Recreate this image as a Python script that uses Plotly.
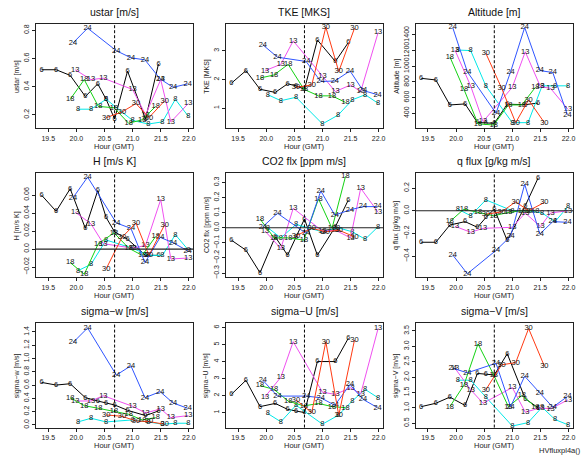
import plotly.graph_objects as go

# ---------------- data ----------------
SERIES = ["6", "8", "13", "18", "24", "30"]

t6 = [19.38, 19.64, 19.89, 20.16, 20.38, 20.53, 20.68, 20.91, 21.23, 21.46]
t8 = [20.03, 20.26, 20.53, 21.00, 21.28, 21.53, 21.76, 21.99]
t13 = [19.98, 20.26, 20.48, 21.00, 21.23, 21.50, 21.68, 21.99]
t18 = [19.89, 20.14, 20.39, 20.67, 20.93, 21.17, 21.41]
t24 = [19.94, 20.20, 20.71, 20.97, 21.22, 21.49, 21.72, 21.98]
t30 = [20.53, 20.81, 21.06, 21.29, 21.57]

ustar = {
    "6": [0.52, 0.52, 0.48, 0.33, 0.42, 0.31, 0.17, 0.51, 0.17, 0.56],
    "8": [0.24, 0.24, 0.31, 0.16, 0.135, 0.15, 0.31, 0.19],
    "13": [0.52, 0.45, 0.46, 0.38, 0.20, 0.45, 0.15, 0.28],
    "18": [0.31, 0.45, 0.26, 0.25, 0.14, 0.165, 0.26],
    "24": [0.71, 0.815, 0.655, 0.605, 0.59, 0.455, 0.395, 0.42],
    "30": [0.18, 0.22, 0.28, 0.18, 0.30],
}
tke = {
    "6": [1.87, 2.31, 1.66, 1.55, 1.85, 1.78, 1.66, 3.38, 2.63, 3.29],
    "8": [1.47, 1.26, 1.38, 0.45, 0.76, 1.29, 1.47, 1.17],
    "13": [2.31, 2.53, 3.35, 2.13, 1.58, 1.81, 1.58, 3.64],
    "18": [2.05, 2.16, 2.53, 1.66, 1.43, 1.43, 1.20],
    "24": [3.21, 2.78, 2.63, 1.93, 1.95, 2.30, 1.62, 1.47],
    "30": [1.73, 1.81, 3.83, 2.28, 3.79],
}
altitude = {
    "6": [846, 825, 506, 519, 281, 275, 272, 515, 510, 530],
    "8": [1207, 1200, 748, 280, 280, 750, 750, 750],
    "13": [1207, 748, 294, 731, 1185, 740, 718, 450],
    "18": [1120, 706, 265, 250, 506, 506, 731],
    "24": [1495, 930, 400, 930, 1495, 945, 920, 380],
    "30": [1165, 720, 280, 570, 280],
}
hflux = {
    "6": [0.060, 0.042, 0.067, 0.023, 0.065, 0.035, 0.019, 0.011, -0.007, -0.007],
    "8": [-0.024, -0.017, 0.010, 0.001, -0.007, -0.007, 0.016, -0.001],
    "13": [0.041, 0.028, 0.006, 0.001, 0.004, 0.055, -0.011, -0.010],
    "18": [-0.015, -0.028, 0.006, 0.018, 0.001, -0.007, 0.014],
    "24": [0.057, 0.080, 0.029, 0.023, -0.015, 0.013, 0.007, -0.002],
    "30": [-0.022, 0.013, 0.029, -0.007, 0.027],
}
co2 = {
    "6": [-0.082, -0.149, -0.298, -0.06, -0.182, -0.06, 0.058, -0.182, 0.007, 0.184],
    "8": [0.0, -0.067, 0.022, -0.027, 0.0, -0.027, -0.076, 0.007],
    "13": [-0.022, -0.138, 0.129, -0.022, -0.016, -0.067, 0.262, 0.102],
    "18": [0.058, -0.067, -0.067, -0.082, 0.191, -0.004, 0.34],
    "24": [0.007, 0.096, -0.038, 0.244, 0.084, 0.118, 0.14, 0.14],
    "30": [-0.053, -0.004, -0.027, -0.016, -0.06],
}
qflux = {
    "6": [-0.278, -0.278, -0.126, -0.096, -0.146, -0.06, 0.015, -0.263, 0.044, 0.29],
    "8": [0.015, -0.044, 0.096, 0.0, 0.0, -0.02, -0.096, 0.038],
    "13": [-0.137, -0.19, -0.155, -0.146, -0.02, -0.14, -0.02, 0.0],
    "18": [-0.096, 0.015, -0.015, -0.044, -0.015, 0.0, 0.0],
    "24": [-0.39, -0.556, -0.35, -0.225, 0.234, -0.205, -0.096, -0.102],
    "30": [-0.03, -0.01, 0.079, 0.0, 0.073],
}
sigw = {
    "6": [0.64, 0.60, 0.62, 0.41, 0.36, 0.33, 0.30, 0.22, 0.14, 0.21],
    "8": [0.045, 0.10, 0.045, 0.075, 0.045, 0.01, 0.025, 0.025],
    "13": [0.36, 0.36, 0.44, 0.28, 0.18, 0.24, 0.11, 0.14],
    "18": [0.41, 0.29, 0.25, 0.20, 0.16, 0.075, 0.11],
    "24": [1.24, 1.46, 0.75, 0.89, 0.41, 0.50, 0.33, 0.25],
    "30": [0.15, 0.13, 0.06, 0.05, 0.01],
}
sigu = {
    "6": [2.07, 2.9, 1.35, 1.54, 1.19, 1.1, 1.0, 4.0, 4.0, 5.37],
    "8": [0.94, 0.46, 1.43, 0.32, 0.84, 1.68, 2.36, 1.87],
    "13": [1.93, 3.08, 5.17, 2.2, 2.07, 2.46, 2.1, 5.95],
    "18": [2.59, 2.36, 1.68, 1.39, 1.54, 1.35, 1.29],
    "24": [2.9, 1.97, 1.97, 1.87, 1.43, 2.65, 1.78, 1.29],
    "30": [1.74, 1.0, 5.17, 0.84, 5.27],
}
sigv = {
    "6": [1.04, 1.15, 1.35, 1.08, 2.12, 2.10, 2.07, 2.76, 1.30, 1.0],
    "8": [1.9, 1.9, 1.35, 0.41, 0.52, 1.02, 0.62, 0.45],
    "13": [2.29, 1.59, 1.15, 1.66, 0.86, 1.0, 0.97, 1.26],
    "18": [1.04, 1.74, 3.08, 2.07, 1.04, 1.4, 1.04],
    "24": [2.29, 2.14, 2.45, 1.04, 2.03, 1.48, 1.02, 1.37],
    "30": [1.59, 2.4, 2.47, 3.58, 2.36],
}

x_ticks = [19.5, 20.0, 20.5, 21.0, 21.5, 22.0]
x_ticklabels = ["19.5", "20.0", "20.5", "21.0", "21.5", "22.0"]
marker_time = 20.68

titles = ["ustar [m/s]", "TKE [MKS]", "Altitude [m]",
          "H [m/s K]", "CO2 flx [ppm m/s]", "q flux [g/kg m/s]",
          "sigma\u2212w [m/s]", "sigma\u2212U [m/s]", "sigma\u2212V [m/s]"]

yticks_ustar = [0.2, 0.4, 0.6, 0.8]
yticks_tke = [1, 2, 3]
yticks_alt = [400, 600, 800, 1000, 1200, 1400]
yticks_h = [-0.02, 0.0, 0.02, 0.04, 0.06]
yticklabels_h = ["\u22120.02", "0.0", "0.02", "0.04", "0.06"]
yticks_co2 = [-0.3, -0.2, -0.1, 0.0, 0.1, 0.2, 0.3]
yticklabels_co2 = ["\u22120.3", "\u22120.2", "\u22120.1", "0.0", "0.1", "0.2", "0.3"]
yticks_q = [-0.4, -0.2, 0.0, 0.2]
yticklabels_q = ["\u22120.4", "\u22120.2", "0.0", "0.2"]
yticks_w = [0.0, 0.2, 0.4, 0.6, 0.8, 1.0, 1.2, 1.4]
yticks_u = [1, 2, 3, 4, 5, 6]
yticks_v = [0.5, 1.0, 1.5, 2.0, 2.5, 3.0, 3.5]

# ---------------- style / layout ----------------
times = {"6": t6, "8": t8, "13": t13, "18": t18, "24": t24, "30": t30}
colors = {"6": "#000000", "8": "#00e8e8", "13": "#f050f0",
          "18": "#14d214", "24": "#2f55ff", "30": "#ff3a12"}
FONT = "Liberation Sans, Arial, Helvetica, sans-serif"

panels = [
    (ustar, [0.105, 0.845], yticks_ustar, ["0.2", "0.4", "0.6", "0.8"], False),
    (tke, [0.30, 3.94], yticks_tke, ["1", "2", "3"], False),
    (altitude, [209, 1540], yticks_alt, [str(v) for v in yticks_alt], False),
    (hflux, [-0.0315, 0.0844], yticks_h, yticklabels_h, True),
    (co2, [-0.329, 0.362], yticks_co2, yticklabels_co2, True),
    (qflux, [-0.588, 0.332], yticks_q, yticklabels_q, True),
    (sigw, [-0.04, 1.53], yticks_w, ["0.0", "0.2", "0.4", "0.6", "0.8", "1.0", "1.2", "1.4"], False),
    (sigu, [0.12, 6.25], yticks_u, [str(v) for v in yticks_u], False),
    (sigv, [0.36, 3.75], yticks_v, ["0.5", "1.0", "1.5", "2.0", "2.5", "3.0", "3.5"], False),
]

W, HT = 585, 456
col_left = [36, 226.5, 417]
row_top = [24, 173.5, 324]
BW, BH = 158, 104.5
XR = [19.28, 22.08]

fig = go.Figure()
shapes = []
annotations = []
layout_axes = {}

for i, (data, yr, tv, tt, zero) in enumerate(panels):
    r, c = divmod(i, 3)
    sfx = "" if i == 0 else str(i + 1)
    xd = [col_left[c] / W, (col_left[c] + BW) / W]
    yd = [1 - (row_top[r] + BH) / HT, 1 - row_top[r] / HT]
    for s in SERIES:
        fig.add_trace(go.Scatter(
            x=times[s], y=data[s], mode="lines+text",
            text=[s] * len(times[s]), textposition="middle center",
            textfont=dict(size=7.5, color="#111111", family=FONT),
            line=dict(color=colors[s], width=1),
            xaxis="x" + sfx, yaxis="y" + sfx,
            showlegend=False, hoverinfo="skip", cliponaxis=False))
    common = dict(showgrid=False, zeroline=False, showline=True, mirror=True,
                  linecolor="#222222", linewidth=1, ticks="outside", ticklen=3,
                  tickwidth=1, tickcolor="#222222",
                  tickfont=dict(size=7, family=FONT, color="#222222"))
    layout_axes["xaxis" + sfx] = dict(domain=xd, range=XR, anchor="y" + sfx,
                                      tickmode="array", tickvals=x_ticks,
                                      ticktext=x_ticklabels, **common)
    layout_axes["yaxis" + sfx] = dict(domain=yd, range=yr, anchor="x" + sfx,
                                      tickmode="array", tickvals=tv, ticktext=tt,
                                      tickangle=-90, **common)
    shapes.append(dict(type="line", xref="x" + sfx, yref="y" + sfx + " domain",
                       x0=marker_time, x1=marker_time, y0=0, y1=1,
                       line=dict(color="#000000", width=1, dash="3px,2px")))
    if zero:
        shapes.append(dict(type="line", xref="x" + sfx + " domain", yref="y" + sfx,
                           x0=0, x1=1, y0=0, y1=0,
                           line=dict(color="#222222", width=1.2)))
    cx = (col_left[c] + BW / 2) / W
    annotations.append(dict(text=titles[i], xref="paper", yref="paper",
                            x=cx, y=1 - (row_top[r] - 12) / HT,
                            xanchor="center", yanchor="middle", showarrow=False,
                            font=dict(size=10.5, family=FONT, color="#111111")))
    annotations.append(dict(text="Hour (GMT)", xref="paper", yref="paper",
                            x=cx, y=1 - (row_top[r] + BH + 18) / HT,
                            xanchor="center", yanchor="middle", showarrow=False,
                            font=dict(size=7.5, family=FONT, color="#222222")))
    annotations.append(dict(text=titles[i], xref="paper", yref="paper",
                            x=(col_left[c] - 19) / W, y=1 - (row_top[r] + BH / 2) / HT,
                            xanchor="center", yanchor="middle", textangle=-90,
                            showarrow=False,
                            font=dict(size=7, family=FONT, color="#222222")))

annotations.append(dict(text="HVfluxpl4a()", xref="paper", yref="paper",
                        x=1, y=1 - 451 / HT, xanchor="right", yanchor="middle",
                        showarrow=False,
                        font=dict(size=7.5, family=FONT, color="#222222")))

fig.update_layout(width=W, height=HT, margin=dict(l=0, r=0, t=0, b=0),
                  paper_bgcolor="white", plot_bgcolor="white",
                  shapes=shapes, annotations=annotations, **layout_axes)

fig.write_html("out.html", config={"displayModeBar": False},
               post_script="document.body.style.margin='0';document.body.style.overflow='hidden';")
